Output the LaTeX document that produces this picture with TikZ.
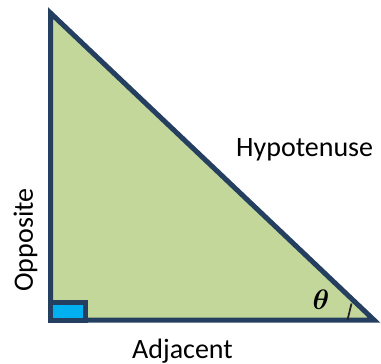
\documentclass[tikz,border=0pt]{standalone}
\usepackage{amsmath,amssymb}
\usepackage{graphicx}
\usepackage{fontspec}
\setmainfont{Carlito}
\usepackage{xcolor}
\usepackage{tikz}
\usetikzlibrary{positioning}
\definecolor{triedge}{HTML}{243F60}
\definecolor{trifill}{HTML}{C4D79B}
\definecolor{sqfill}{HTML}{00B0F0}
\tikzset{
  tri/.style={draw=triedge, fill=trifill, line width=5pt, line join=miter},
  rtsq/.style={draw=triedge, fill=sqfill, line width=5pt},
  lbl/.style={font=\fontsize{28}{34}\selectfont, inner sep=0pt},
  tick/.style={draw=black!85, line width=1.8pt},
}

\begin{document}
\begin{tikzpicture}[x=1pt, y=-1pt]
\useasboundingbox (0,0) rectangle (381,364);
\coordinate (top) at (50.5,13);
\coordinate (rt) at (50.5,320);
\coordinate (rgt) at (374,320);
\draw[tri] (top) -- (rt) -- (rgt) -- cycle;
\draw[rtsq] (rt) rectangle (85.5,302);
\node[lbl, anchor=base west] (hyp) at (236,156) {Hypotenuse};
\node[lbl, anchor=base] (adj) at (182.5,358) {Adjacent};
\node[lbl, anchor=base, rotate=90] (opp) at (33,240) {Opposite};
\node[lbl] (theta) at (321,300) {\scalebox{1.13}{$\boldsymbol{\theta}$}};
\coordinate (tka) at (351.5,303.5);
\coordinate (tkb) at (347.5,320);
\draw[tick] (tka) -- (tkb);
\end{tikzpicture}
\end{document}
